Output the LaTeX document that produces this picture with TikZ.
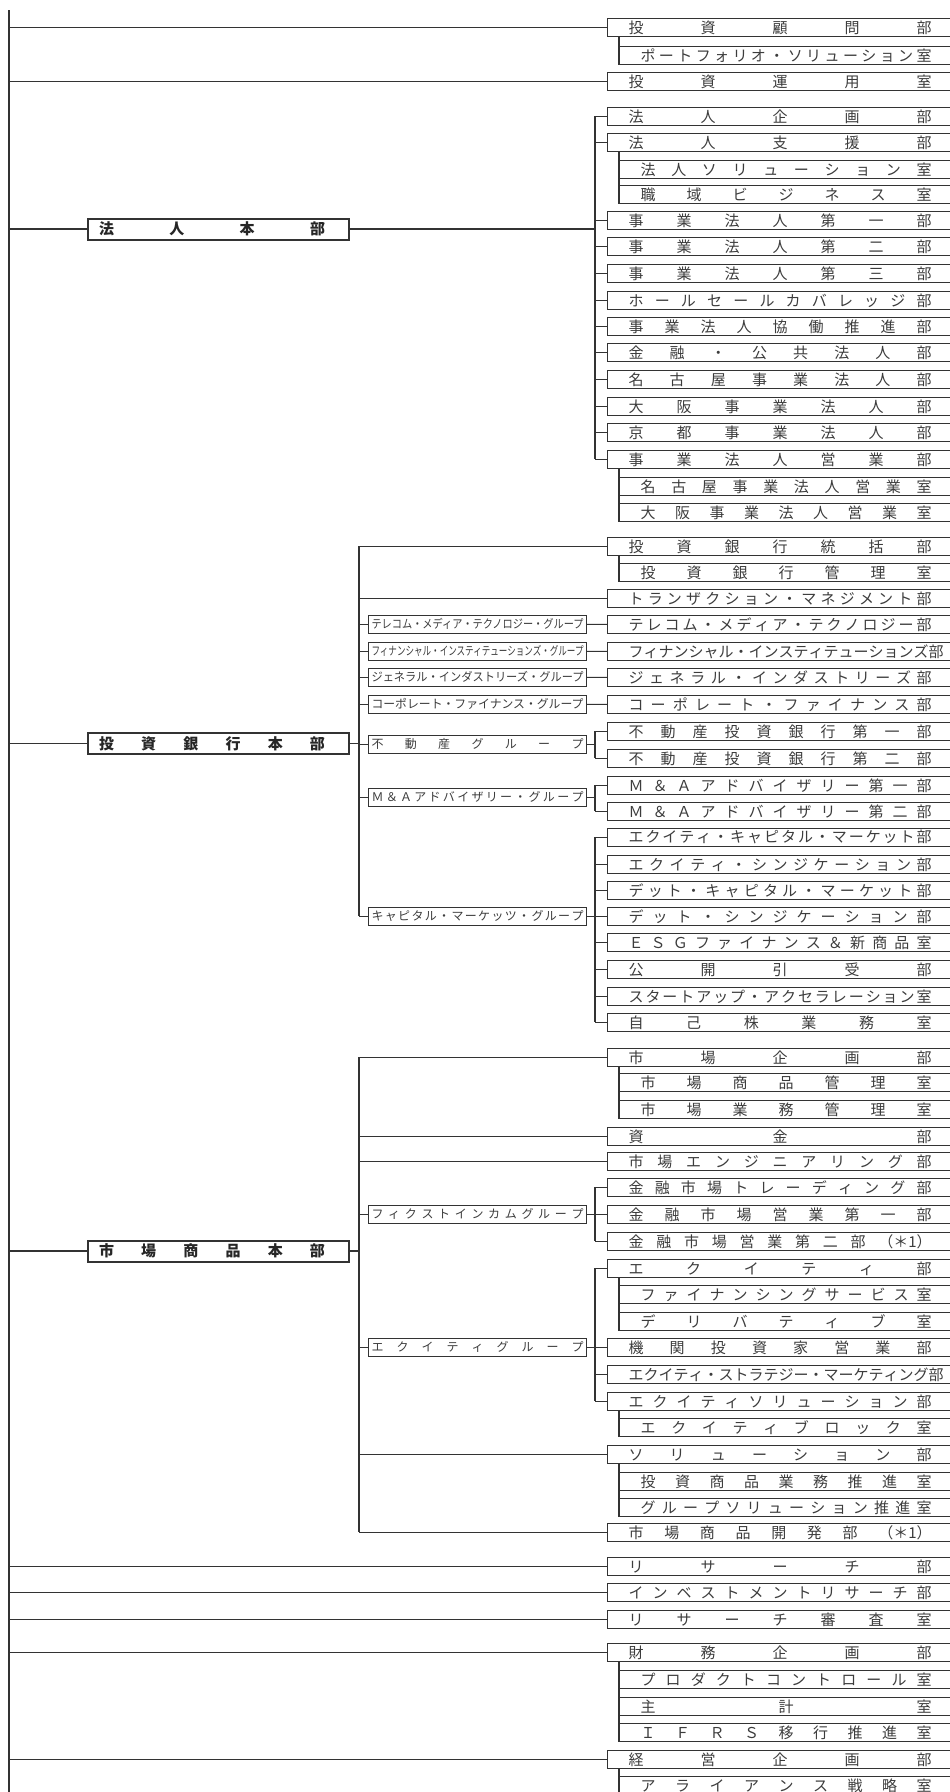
\documentclass[tikz,border=0pt]{standalone}
\usepackage{fontspec}
\setmainfont{Noto Sans CJK JP}
\usepackage{graphicx}
\definecolor{ln}{HTML}{333333}
\definecolor{tx}{HTML}{3C3C3C}
\makeatletter
\def\sp@end{\sp@end}
\def\spreadit#1{\sp@A#1\sp@end}
\def\sp@A#1{\def\sp@tmp{#1}\ifx\sp@tmp\sp@end\else#1\expandafter\sp@B\fi}
\def\sp@B#1{\def\sp@tmp{#1}\ifx\sp@tmp\sp@end\else\hfill#1\expandafter\sp@B\fi}
\makeatother
\newsavebox\spbox
\newcommand\fitspread[2]{\sbox\spbox{#2}\ifdim\wd\spbox>#1\relax\resizebox{#1}{\height}{\usebox\spbox}\else\makebox[#1][s]{\spreadit{#2}}\fi}
\tikzset{
  conn/.style={draw=ln, line width=1.1pt},
  rowb/.style={draw=ln, line width=1.2pt, anchor=north west, minimum width=345pt, minimum height=17.5pt, inner sep=0pt, text=tx, font=\fontsize{15pt}{15pt}\selectfont},
  subb/.style={rowb, minimum width=333pt},
  grpb/.style={draw=ln, line width=1.1pt, anchor=north west, minimum width=218pt, minimum height=17.5pt, inner sep=0pt, text=tx, font=\fontsize{12pt}{12pt}\selectfont},
  honb/.style={draw=ln, line width=2pt, anchor=west, minimum width=261pt, minimum height=21pt, inner sep=0pt, text=black!85, font=\bfseries\fontsize{15pt}{15pt}\selectfont},
}
\newcommand\row[3]{\node[rowb] (#1) at (607,#2) {\makebox[303pt][s]{\spreadit{#3}}};}
\newcommand\subrow[3]{\node[subb] (#1) at (619,#2) {\makebox[291pt][s]{\spreadit{#3}}};}
\newcommand\grp[3]{\node[grpb] (#1) at (368,#2) {\fitspread{212pt}{#3}};}
\newcommand\honbu[3]{\node[honb] (#1) at (87,#2) {\makebox[239pt][l]{\makebox[226pt][s]{\spreadit{#3}}}};}
\begin{document}
\begin{tikzpicture}[x=1pt,y=-1pt]
\useasboundingbox (0,0) rectangle (950,1792);
\coordinate (spine) at (9,10);
\coordinate (spineEnd) at (9,1800);
\coordinate (bH) at (595,0);
\coordinate (mid) at (359,0);
\coordinate (bG) at (595,0);
% right column
\row{m1}{18}{投資顧問部}
\subrow{s1}{46}{ポートフォリオ・ソリューション室}
\row{m2}{72}{投資運用室}
\row{h1}{107}{法人企画部}
\row{h2}{133}{法人支援部}
\subrow{h2a}{160}{法人ソリューション室}
\subrow{h2b}{185}{職域ビジネス室}
\row{h3}{211}{事業法人第一部}
\row{h4}{237}{事業法人第二部}
\row{h5}{264}{事業法人第三部}
\row{h6}{291}{ホールセールカバレッジ部}
\row{h7}{317}{事業法人協働推進部}
\row{h8}{343}{金融・公共法人部}
\row{h9}{370}{名古屋事業法人部}
\row{h10}{397}{大阪事業法人部}
\row{h11}{423}{京都事業法人部}
\row{h12}{450}{事業法人営業部}
\subrow{h12a}{477}{名古屋事業法人営業室}
\subrow{h12b}{503}{大阪事業法人営業室}
\row{i1}{537}{投資銀行統括部}
\subrow{i1a}{563}{投資銀行管理室}
\row{i2}{589}{トランザクション・マネジメント部}
\row{i3}{615}{テレコム・メディア・テクノロジー部}
\row{i4}{642}{フィナンシャル・インスティテューションズ部}
\row{i5}{668}{ジェネラル・インダストリーズ部}
\row{i6}{695}{コーポレート・ファイナンス部}
\row{i7}{722}{不動産投資銀行第一部}
\row{i8}{749}{不動産投資銀行第二部}
\row{i9}{776}{Ｍ＆Ａアドバイザリー第一部}
\row{i10}{802}{Ｍ＆Ａアドバイザリー第二部}
\row{i11}{828}{エクイティ・キャピタル・マーケット部}
\row{i12}{855}{エクイティ・シンジケーション部}
\row{i13}{881}{デット・キャピタル・マーケット部}
\row{i14}{907}{デット・シンジケーション部}
\row{i15}{933}{ＥＳＧファイナンス＆新商品室}
\row{i16}{960}{公開引受部}
\row{i17}{987}{スタートアップ・アクセラレーション室}
\row{i18}{1013}{自己株業務室}
\row{k1}{1048}{市場企画部}
\subrow{k1a}{1073}{市場商品管理室}
\subrow{k1b}{1100}{市場業務管理室}
\row{k2}{1127}{資金部}
\row{k3}{1152}{市場エンジニアリング部}
\row{k4}{1178}{金融市場トレーディング部}
\row{k5}{1205}{金融市場営業第一部}
\row{k6}{1232}{金融市場営業第二部{（＊1）}}
\row{k7}{1259}{エクイティ部}
\subrow{k7a}{1285}{ファイナンシングサービス室}
\subrow{k7b}{1312}{デリバティブ室}
\row{k8}{1338}{機関投資家営業部}
\row{k9}{1365}{エクイティ・ストラテジー・マーケティング部}
\row{k10}{1392}{エクイティソリューション部}
\subrow{k10a}{1418}{エクイティブロック室}
\row{k11}{1445}{ソリューション部}
\subrow{k11a}{1472}{投資商品業務推進室}
\subrow{k11b}{1498}{グループソリューション推進室}
\row{k12}{1523}{市場商品開発部{（＊1）}}
\row{r1}{1557}{リサーチ部}
\row{r2}{1583}{インベストメントリサーチ部}
\row{r3}{1610}{リサーチ審査室}
\row{f1}{1643}{財務企画部}
\subrow{f1a}{1670}{プロダクトコントロール室}
\subrow{f1b}{1697}{主計室}
\subrow{f1c}{1723}{ＩＦＲＳ移行推進室}
\row{e1}{1750}{経営企画部}
\subrow{e1a}{1776}{アライアンス戦略室}
% group boxes
\grp{gT}{615}{テレコム・メディア・テクノロジー・グループ}
\grp{gF}{642}{フィナンシャル・インスティテューションズ・グループ}
\grp{gG}{668}{ジェネラル・インダストリーズ・グループ}
\grp{gC}{695}{コーポレート・ファイナンス・グループ}
\grp{gR}{735}{不動産グループ}
\grp{gM}{788}{Ｍ＆Ａアドバイザリー・グループ}
\grp{gK}{907}{キャピタル・マーケッツ・グループ}
\grp{gX}{1205}{フィクストインカムグループ}
\grp{gE}{1338}{エクイティグループ}
% honbu
\honbu{H1}{229}{法人本部}
\honbu{H2}{743.5}{投資銀行本部}
\honbu{H3}{1251}{市場商品本部}
% main spine
\draw[conn] (spine) -- (spineEnd);
\foreach \n in {m1,m2,r1,r2,r3,f1,e1}{\draw[conn] (\n.west -| spine) -- (\n.west);}
\foreach \n in {H1,H2,H3}{\draw[conn] (\n.west -| spine) -- (\n.west);}
% sub-box verticals
\draw[conn] (m1.south -| s1.west) -- (s1.south west);
\draw[conn] (h2.south -| h2a.west) -- (h2b.south west);
\draw[conn] (h12.south -| h12a.west) -- (h12b.south west);
\draw[conn] (i1.south -| i1a.west) -- (i1a.south west);
\draw[conn] (k1.south -| k1a.west) -- (k1b.south west);
\draw[conn] (k7.south -| k7a.west) -- (k7b.south west);
\draw[conn] (k10.south -| k10a.west) -- (k10a.south west);
\draw[conn] (k11.south -| k11a.west) -- (k11b.south west);
\draw[conn] (f1.south -| f1a.west) -- (f1c.south west);
\draw[conn] (e1.south -| e1a.west) -- (e1a.south west);
% 法人本部
\draw[conn] (H1.east) -- (H1.east -| bH);
\draw[conn] (h1.west -| bH) -- (h12.west -| bH);
\foreach \n in {h1,h2,h3,h4,h5,h6,h7,h8,h9,h10,h11,h12}{\draw[conn] (\n.west -| bH) -- (\n.west);}
% 投資銀行本部
\draw[conn] (H2.east) -- (H2.east -| mid);
\draw[conn] (i1.west -| mid) -- (gK.west -| mid);
\foreach \n in {i1,i2,gT,gF,gG,gC,gR,gM,gK}{\draw[conn] (\n.west -| mid) -- (\n.west);}
\draw[conn] (gT.east) -- (i3.west);
\draw[conn] (gF.east) -- (i4.west);
\draw[conn] (gG.east) -- (i5.west);
\draw[conn] (gC.east) -- (i6.west);
\draw[conn] (gR.east) -- (gR.east -| bG);
\draw[conn] (i7.west -| bG) -- (i8.west -| bG);
\foreach \n in {i7,i8}{\draw[conn] (\n.west -| bG) -- (\n.west);}
\draw[conn] (gM.east) -- (gM.east -| bG);
\draw[conn] (i9.west -| bG) -- (i10.west -| bG);
\foreach \n in {i9,i10}{\draw[conn] (\n.west -| bG) -- (\n.west);}
\draw[conn] (gK.east) -- (gK.east -| bG);
\draw[conn] (i11.west -| bG) -- (i18.west -| bG);
\foreach \n in {i11,i12,i13,i14,i15,i16,i17,i18}{\draw[conn] (\n.west -| bG) -- (\n.west);}
% 市場商品本部
\draw[conn] (H3.east) -- (H3.east -| mid);
\draw[conn] (k1.west -| mid) -- (k12.west -| mid);
\foreach \n in {k1,k2,k3,gX,gE,k11,k12}{\draw[conn] (\n.west -| mid) -- (\n.west);}
\draw[conn] (gX.east) -- (gX.east -| bG);
\draw[conn] (k4.west -| bG) -- (k6.west -| bG);
\foreach \n in {k4,k5,k6}{\draw[conn] (\n.west -| bG) -- (\n.west);}
\draw[conn] (gE.east) -- (gE.east -| bG);
\draw[conn] (k7.west -| bG) -- (k10.west -| bG);
\foreach \n in {k7,k8,k9,k10}{\draw[conn] (\n.west -| bG) -- (\n.west);}
\end{tikzpicture}
\end{document}
